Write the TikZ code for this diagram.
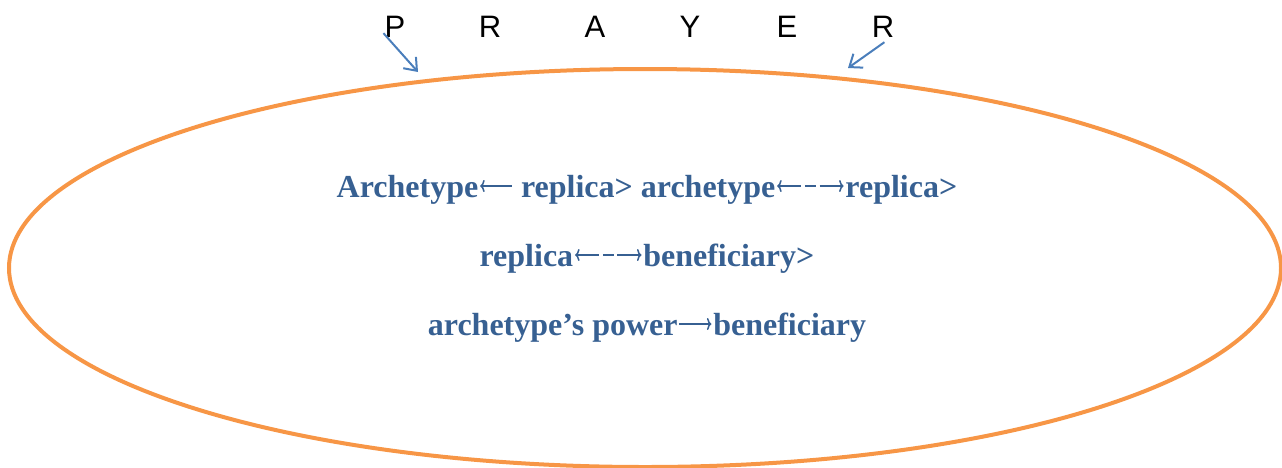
\documentclass[tikz,border=0pt]{standalone}
\usepackage{fontspec}
\setmainfont{Liberation Serif}
\newfontfamily\arialfont{Liberation Sans}
\usetikzlibrary{arrows.meta}
\definecolor{ellorange}{HTML}{F79646}
\definecolor{txtblue}{HTML}{376092}
\definecolor{arrblue}{HTML}{4A7EBB}
\tikzset{
  letter/.style={font=\arialfont\fontsize{31}{31}\selectfont, text=black, inner sep=0pt, anchor=base},
  line/.style={font=\bfseries\fontsize{32}{32}\selectfont, text=txtblue, inner sep=0pt, anchor=base},
  pointer/.style={draw=arrblue, line width=2pt, -{Straight Barb[length=11pt,width=17pt,line width=2pt]}},
  glyph/.style={draw=txtblue, line width=1.7pt},
  ghead/.tip={To[length=4.5pt,width=12pt,line width=1.5pt]},
}
\newcommand{\gla}[1]{\tikz[baseline=0pt]\draw[glyph,{ghead}-] (0pt,11pt)--(#1,11pt);}
\newcommand{\gra}[1]{\tikz[baseline=0pt]\draw[glyph,-{ghead}] (0pt,11pt)--(#1,11pt);}
\newcommand{\gdash}[1]{\tikz[baseline=0pt]\draw[glyph] (0pt,11pt)--(#1,11pt);}
\newcommand{\mylra}{\gla{24pt}\kern2pt\gdash{11pt}\kern2pt\gra{24pt}}
\begin{document}
\begin{tikzpicture}[x=1pt,y=-1pt]
\useasboundingbox (0,0) rectangle (1282,467);
\draw[ellorange, line width=4pt] (645,268) ellipse [x radius=636, y radius=199];
\node[letter] (p) at (395,37) {P};
\node[letter] (r1) at (490,37) {R};
\node[letter] (a) at (595,37) {A};
\node[letter] (y) at (690,37) {Y};
\node[letter] (e) at (787,37) {E};
\node[letter] (r2) at (883,37) {R};
\coordinate (pin) at (418,72);
\coordinate (rin) at (848,68);
\draw[pointer] (p.south west) ++(-1,-4) -- (pin);
\draw[pointer] (r2.south east) ++(-10,5) -- (rin);
\node[line] (l1) at (647,197) {Archetype\kern1pt\gla{32pt}\ replica> archetype\kern1pt\mylra\kern1pt replica>};
\node[line] (l2) at (647,266) {replica\kern1pt\mylra\kern1pt beneficiary>};
\node[line] (l3) at (647,335) {archetype’s power\kern1pt\gra{32pt}\kern1pt beneficiary};
\end{tikzpicture}
\end{document}
